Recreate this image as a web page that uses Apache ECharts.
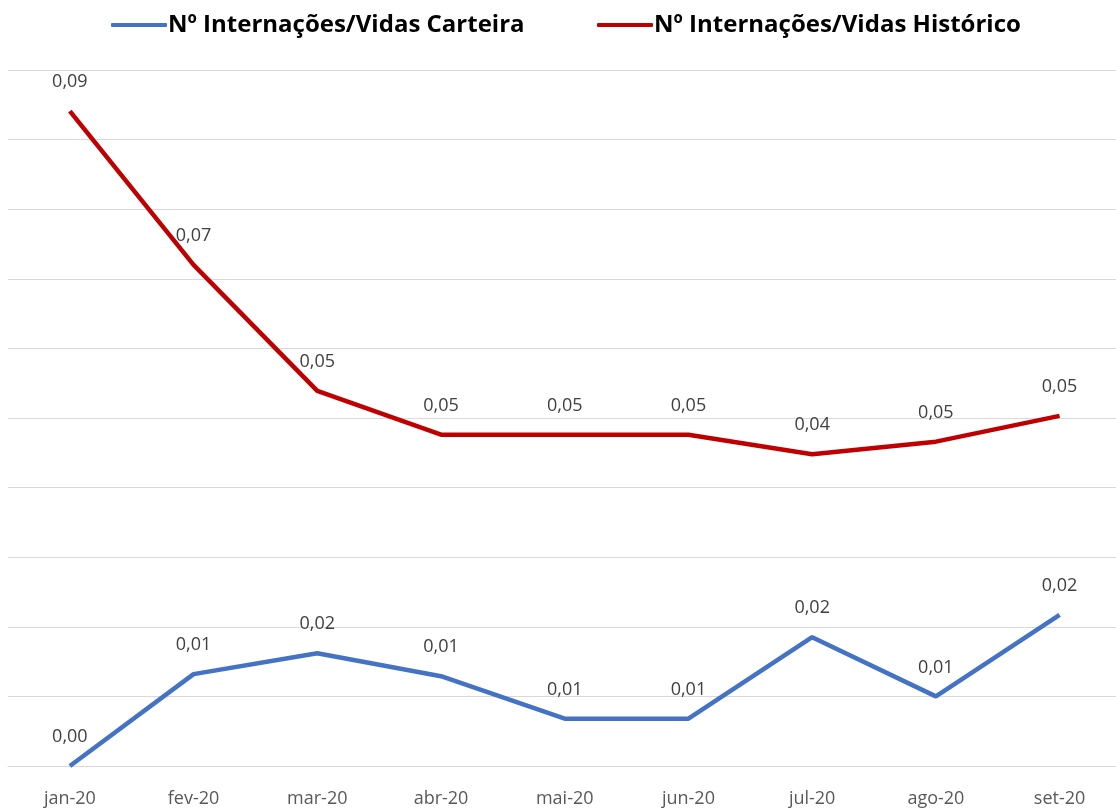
<!DOCTYPE html>
<html><head><meta charset="utf-8">
<script src="https://cdn.jsdelivr.net/npm/echarts@6/dist/echarts.min.js"></script>
<style>html,body{margin:0;padding:0;background:#fff}#c{width:1116px;height:809px}</style>
</head><body><div id="c"></div>
<script>
const categories = ['jan-20','fev-20','mar-20','abr-20','mai-20','jun-20','jul-20','ago-20','set-20'];
const carteira = [0.0000, 0.0132, 0.0162, 0.0129, 0.0068, 0.0068, 0.0185, 0.0100, 0.0217];
const historico = [0.0941, 0.0720, 0.0539, 0.0476, 0.0476, 0.0476, 0.0448, 0.0466, 0.0503];
const seriesNames = ['Nº Internações/Vidas Carteira', 'Nº Internações/Vidas Histórico'];

const idx = categories.map((_, i) => i);
const toPairs = arr => arr.map((v, i) => [i, v]);

const chart = echarts.init(document.getElementById('c'), null, {renderer:'canvas'});
const fmt = p => p.value[1].toFixed(2).replace('.', ',');
const labelStyle = {show:true, position:'top', distance:20, formatter:fmt, color:'#404040', fontSize:18, fontFamily:'Open Sans'};
const legendText = {fontSize:24, fontWeight:'bold', color:'#000', fontFamily:'Open Sans', padding:[0,0,0,-4]};
chart.setOption({
  animation:false,
  textStyle:{fontFamily:'Open Sans'},
  legend:[
    {top:8, left:106, itemWidth:56, itemHeight:4, icon:'roundRect', textStyle:legendText, data:[seriesNames[0]]},
    {top:8, left:592, itemWidth:56, itemHeight:4, icon:'roundRect', textStyle:legendText, data:[seriesNames[1]]}
  ],
  grid:{left:8, right:0, top:70, bottom:43},
  xAxis:{
    type:'value', min:-0.5, max:8.456,
    splitLine:{show:false},
    axisLine:{show:true, lineStyle:{color:'#d9d9d9', width:1}},
    axisTick:{show:false},
    axisLabel:{color:'#595959', fontSize:18, margin:24, fontFamily:'Open Sans',
      customValues: idx, formatter: v => categories[Math.round(v)]}
  },
  yAxis:{
    type:'value', min:0, max:0.1, interval:0.01,
    axisLabel:{show:false}, axisLine:{show:false}, axisTick:{show:false},
    splitLine:{lineStyle:{color:'#d9d9d9', width:1}}
  },
  series:[
    {name:seriesNames[0], type:'line', data:toPairs(carteira), symbol:'circle', symbolSize:0, showSymbol:true,
     lineStyle:{color:'#4472C4', width:4.5}, itemStyle:{color:'#4472C4'}, label:labelStyle},
    {name:seriesNames[1], type:'line', data:toPairs(historico), symbol:'circle', symbolSize:0, showSymbol:true,
     lineStyle:{color:'#C00000', width:4.5}, itemStyle:{color:'#C00000'}, label:labelStyle}
  ]
});
</script></body></html>
